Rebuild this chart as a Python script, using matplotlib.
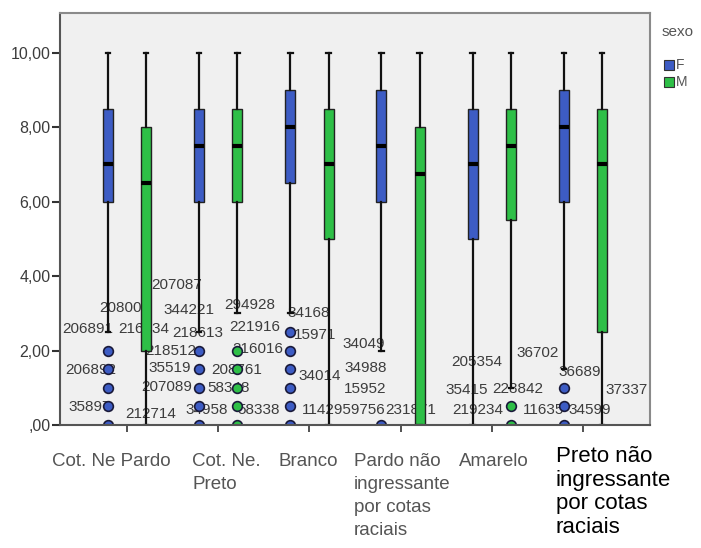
import matplotlib.pyplot as plt
from matplotlib.patches import Rectangle

plt.rcParams['font.family'] = ['Liberation Sans', 'DejaVu Sans']

# Categories (x axis) and the two sex groups
groups = ['Cot. Ne Pardo', 'Cot. Ne.\nPreto', 'Branco',
          'Pardo não\ningressante\npor cotas\nraciais', 'Amarelo',
          'Preto não\ningressante\npor cotas\nraciais']
sexes = ['F', 'M']

# Box statistics, female
f_whishi = [10, 10, 10, 10, 10, 10]
f_q3 = [8.5, 8.5, 9, 9, 8.5, 9]
f_med = [7, 7.5, 8, 7.5, 7, 8]
f_q1 = [6, 6, 6.5, 6, 5, 6]
f_whislo = [2.5, 2.5, 3, 2, 0, 1.5]
f_fliers = [[2, 1.5, 1, 0.5, 0], [2, 1.5, 1, 0.5, 0], [2.5, 2, 1.5, 1, 0.5, 0],
            [0], [], [1, 0.5, 0]]

# Box statistics, male
m_whishi = [10, 10, 10, 10, 10, 10]
m_q3 = [8, 8.5, 8.5, 8, 8.5, 8.5]
m_med = [6.5, 7.5, 7, 6.75, 7.5, 7]
m_q1 = [2, 6, 5, 0, 5.5, 2.5]
m_whislo = [0, 3, 0, 0, 1, 0]
m_fliers = [[], [2, 1.5, 1, 0.5, 0], [], [], [0.5, 0], []]

# Case ids printed next to outliers: (group, sex, value, id, x shift in px)
case_labels = [
    (0, 'M', 3.75, '207087', 30), (0, 'F', 3.14, '208005', 17),
    (1, 'F', 3.08, '344221', -10), (0, 'F', 2.57, '206891', -20),
    (0, 'M', 2.57, '216434', -2), (1, 'F', 2.47, '218613', -1),
    (1, 'F', 2.0, '218512', -28), (0, 'F', 1.47, '206892', -17),
    (1, 'F', 1.53, '35519', -29), (1, 'F', 1.02, '207089', -32),
    (0, 'F', 0.48, '35897', -18), (0, 'M', 0.30, '212714', 5),
    (1, 'M', 3.22, '294928', 12), (1, 'M', 2.63, '221916', 17),
    (1, 'M', 2.04, '216016', 20), (1, 'M', 1.47, '208761', -1),
    (1, 'M', 0.99, '58348', -9), (1, 'F', 0.40, '34958', 8),
    (1, 'M', 0.40, '58338', 21), (2, 'F', 3.0, '34168', 18),
    (2, 'F', 2.41, '15971', 25), (2, 'F', 1.31, '34014', 29),
    (2, 'F', 0.40, '1142959756', 53), (3, 'F', 2.17, '34049', -18),
    (3, 'F', 1.53, '34988', -16), (3, 'F', 0.97, '15952', -16),
    (3, 'M', 0.40, '231871', -9), (4, 'F', 1.69, '205354', 4),
    (4, 'F', 0.94, '35415', -6), (4, 'M', 0.97, '228842', 7),
    (4, 'F', 0.40, '219234', 5), (4, 'M', 0.40, '11635', 33),
    (4, 'M', 1.93, '36702', 27), (5, 'F', 1.42, '36689', 16),
    (5, 'F', 0.40, '34599', 26), (5, 'M', 0.94, '37337', 24),
]

colors = {'F': '#3d5cc4', 'M': '#2ebf47'}
offset = {'F': -0.21, 'M': 0.21}

fig = plt.figure(figsize=(7.01, 5.48), dpi=100)
ax = fig.add_axes([60 / 701, 1 - 425 / 548, 590 / 701, 412 / 548])
ax.set_facecolor('#f0f0f0')

series = {
    'F': (f_whislo, f_q1, f_med, f_q3, f_whishi, f_fliers),
    'M': (m_whislo, m_q1, m_med, m_q3, m_whishi, m_fliers),
}
for sex in sexes:
    lo, q1, med, q3, hi, fl = series[sex]
    stats = [dict(whislo=lo[i], q1=q1[i], med=med[i], q3=q3[i], whishi=hi[i],
                  fliers=fl[i]) for i in range(len(groups))]
    pos = [i + offset[sex] for i in range(len(groups))]
    ax.bxp(stats, positions=pos, widths=0.11, capwidths=0.05, patch_artist=True,
           boxprops=dict(facecolor=colors[sex], edgecolor='#222222', linewidth=1),
           medianprops=dict(color='black', linewidth=3),
           whiskerprops=dict(color='#111111', linewidth=1.6),
           capprops=dict(color='#111111', linewidth=1.6),
           flierprops=dict(marker='o', markersize=7, markerfacecolor=colors[sex],
                           markeredgecolor='#1a1a3a', markeredgewidth=1.2),
           manage_ticks=False)

for g, sex, val, txt, dx in case_labels:
    ax.annotate(txt, xy=(g + offset[sex], val), xytext=(dx, 0),
                textcoords='offset pixels', ha='center', va='center',
                fontsize=11, color='#3c3c3c', zorder=1.5)

ax.set_xlim(-0.735, 5.735)
ax.set_ylim(0, 11.07)
ax.set_yticks([0, 2, 4, 6, 8, 10])
ax.set_yticklabels([',00', '2,00', '4,00', '6,00', '8,00', '10,00'])
ax.set_xticks(range(len(groups)))
ax.set_xticklabels([''] * len(groups))
ax.tick_params(axis='y', length=6, width=1.5, colors='#333333', labelsize=11.5,
               labelcolor='#3c3c3c', pad=1)
ax.tick_params(axis='x', length=5, width=1.2, colors='#333333')

for side in ['top', 'right']:
    ax.spines[side].set_color('#8a8a8a')
    ax.spines[side].set_linewidth(1.5)
for side in ['left', 'bottom']:
    ax.spines[side].set_color('#555555')
    ax.spines[side].set_linewidth(1.5)

# Category names under the axis
label_dx = [-75, -26, -31, -47, -33, -27]
for i, name in enumerate(groups):
    last = i == len(groups) - 1
    ax.annotate(name, xy=(i, 0), xycoords=('data', 'axes fraction'),
                xytext=(label_dx[i], -28 if not last else -21),
                textcoords='offset pixels', ha='left', va='top',
                fontsize=16 if last else 13.5,
                color='black' if last else '#555555',
                linespacing=1.17 if last else 1.45)

# Legend: title and two colour keys to the right of the plot
fig.text(662 / 701, 1 - 32 / 548, 'sexo', fontsize=11, color='#555555',
         va='center', ha='left')
for k, sex in enumerate(sexes):
    yc = 65 + 17 * k
    fig.patches.append(Rectangle((664 / 701, 1 - (yc + 5) / 548), 10 / 701, 10 / 548,
                                 transform=fig.transFigure, facecolor=colors[sex],
                                 edgecolor='#333333', linewidth=0.8))
    fig.text(676 / 701, 1 - yc / 548, sex, fontsize=10, color='#555555',
             va='center', ha='left')

fig.savefig('out.png', dpi=100, facecolor='white')
